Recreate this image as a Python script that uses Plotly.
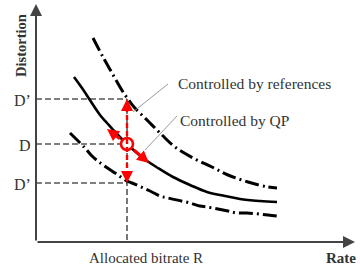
import plotly.graph_objects as go

# ---- data (schematic, pixel-like coordinates) ----
upper_x = [93, 103, 112, 123, 128, 134, 148, 162, 175, 193, 212, 228, 248, 268, 277]
upper_y = [38, 57, 73, 92, 99, 107, 121, 135, 147, 158, 167, 175, 182, 187, 188]

mid_x = [74, 82, 100, 107, 116, 127, 143, 158, 173, 190, 207, 225, 240, 260, 277]
mid_y = [77, 88, 115, 123, 133, 144, 158, 168, 177, 185, 192, 196, 199, 201, 202]

lower_x = [70, 85, 92, 99, 115, 127, 132, 150, 160, 168, 190, 200, 207, 228, 237, 247, 268, 277]
lower_y = [133, 148, 156, 162, 173, 181, 183, 191, 196, 198, 203, 206, 207, 211, 213, 213, 215, 216]

axis_origin = [36, 242]
axis_x_end = 355
axis_y_end = 4

d_levels = [99, 144, 183]
d_labels = ["D’", "D", "D’"]
r_pos = 127

tangent_tips = [[107, 129], [149, 163]]
tangent_starts = [[121.5, 139.8], [132.3, 148.6]]

text_color = "#333333"
serif = "Liberation Serif, Times New Roman, serif"

fig = go.Figure()

dashdot = "14px,4px,2px,4px"
fig.add_trace(go.Scatter(x=upper_x, y=upper_y, mode="lines", line=dict(color="black", width=3, dash=dashdot, shape="spline"), hoverinfo="skip"))
fig.add_trace(go.Scatter(x=lower_x, y=lower_y, mode="lines", line=dict(color="black", width=3, dash=dashdot, shape="spline"), hoverinfo="skip"))
fig.add_trace(go.Scatter(x=mid_x, y=mid_y, mode="lines", line=dict(color="black", width=2.6, shape="spline"), hoverinfo="skip"))

shapes = []
gdash = "6px,3px"
for d in d_levels:
    shapes.append(dict(type="line", xref="x", yref="y", x0=axis_origin[0], x1=r_pos, y0=d, y1=d,
                       line=dict(color="#555", width=1.6, dash=gdash), layer="below"))
shapes.append(dict(type="line", xref="x", yref="y", x0=r_pos, x1=r_pos, y0=d_levels[0], y1=axis_origin[1],
                   line=dict(color="#555", width=1.6, dash=gdash), layer="below"))
shapes.append(dict(type="line", xref="x", yref="y", x0=168, y0=84, x1=133, y1=112, line=dict(color="#999", width=1)))
shapes.append(dict(type="line", xref="x", yref="y", x0=177, y0=116, x1=145, y1=150, line=dict(color="#999", width=1)))
shapes.append(dict(type="line", xref="x", yref="y", x0=r_pos, x1=r_pos, y0=d_levels[0] + 8, y1=d_levels[2] - 8,
                   line=dict(color="#ff0000", width=2.4, dash="5px,3px")))
fig.update_layout(shapes=shapes)

ann = []
ann.append(dict(x=axis_origin[0], y=axis_y_end, ax=axis_origin[0], ay=axis_origin[1], xref="x", yref="y",
                axref="x", ayref="y", text="", showarrow=True, arrowhead=2, arrowsize=1.2, arrowwidth=2, arrowcolor="#444"))
ann.append(dict(x=axis_x_end, y=axis_origin[1], ax=axis_origin[0], ay=axis_origin[1], xref="x", yref="y",
                axref="x", ayref="y", text="", showarrow=True, arrowhead=2, arrowsize=1.2, arrowwidth=2, arrowcolor="#444"))
ann.append(dict(x=r_pos, y=d_levels[0], ax=r_pos, ay=d_levels[0] + 10, xref="x", yref="y", axref="x", ayref="y",
                text="", showarrow=True, arrowhead=2, arrowsize=1.0, arrowwidth=2.4, arrowcolor="#ff0000"))
ann.append(dict(x=r_pos, y=d_levels[2], ax=r_pos, ay=d_levels[2] - 10, xref="x", yref="y", axref="x", ayref="y",
                text="", showarrow=True, arrowhead=2, arrowsize=1.0, arrowwidth=2.4, arrowcolor="#ff0000"))
for (tx, ty), (sx, sy) in zip(tangent_tips, tangent_starts):
    ann.append(dict(x=tx, y=ty, ax=sx, ay=sy, xref="x", yref="y", axref="x", ayref="y",
                    text="", showarrow=True, arrowhead=2, arrowsize=0.8, arrowwidth=3, arrowcolor="#ff0000"))

for d, lab in zip(d_levels, d_labels):
    ann.append(dict(x=33, y=d + 1, xref="x", yref="y", text=lab, showarrow=False, xanchor="right", yanchor="middle",
                    font=dict(family=serif, size=16, color=text_color)))
ann.append(dict(x=176, y=83, xref="x", yref="y", text="Controlled by references", showarrow=False,
                xanchor="left", yanchor="middle", font=dict(family=serif, size=15.5, color=text_color)))
ann.append(dict(x=178, y=120, xref="x", yref="y", text="Controlled by QP", showarrow=False,
                xanchor="left", yanchor="middle", font=dict(family=serif, size=15.5, color=text_color)))
ann.append(dict(x=146, y=258, xref="x", yref="y", text="Allocated bitrate R", showarrow=False,
                xanchor="center", yanchor="middle", font=dict(family=serif, size=15, color=text_color)))
ann.append(dict(x=341, y=258, xref="x", yref="y", text="<b>Rate</b>", showarrow=False,
                xanchor="center", yanchor="middle", font=dict(family=serif, size=15, color=text_color)))
ann.append(dict(x=21, y=46, xref="x", yref="y", text="<b>Distortion</b>", showarrow=False, textangle=-90,
                xanchor="center", yanchor="middle", font=dict(family=serif, size=14.5, color=text_color)))
fig.update_layout(annotations=ann)

fig.add_trace(go.Scatter(x=[r_pos], y=[d_levels[1]], mode="markers",
                         marker=dict(size=12, color="white", line=dict(color="#ff0000", width=2.6)), hoverinfo="skip"))

fig.update_layout(
    width=360, height=272, autosize=False,
    margin=dict(l=0, r=0, t=0, b=0),
    paper_bgcolor="white", plot_bgcolor="white",
    showlegend=False,
    xaxis=dict(range=[0, 360], visible=False, fixedrange=True),
    yaxis=dict(range=[272, 0], visible=False, fixedrange=True),
)

fig.write_html("out.html", config={"displayModeBar": False},
               post_script="document.body.style.margin='0';document.body.style.overflow='hidden';")
